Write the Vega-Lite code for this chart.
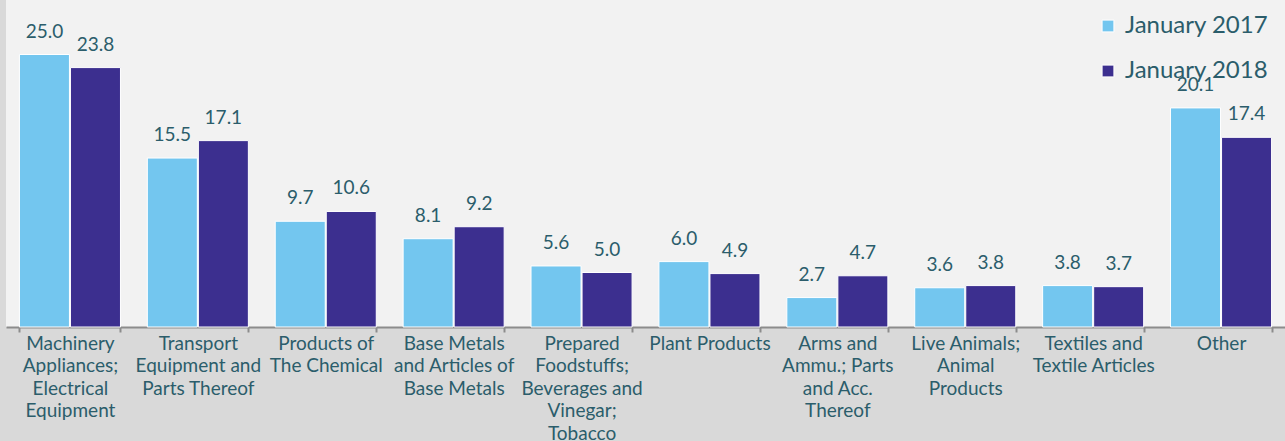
{
  "$schema": "https://vega.github.io/schema/vega-lite/v6.json",
  "width": 1279,
  "height": 327,
  "autosize": {"type": "none"},
  "padding": {"left": 6, "top": 0, "right": 0, "bottom": 114},
  "background": "#d9d9d9",
  "config": {
    "view": {"fill": "#f2f2f2", "stroke": null},
    "font": "Lato",
    "text": {"font": "Lato"}
  },
  "data": {
    "values": [
      {"cat": "Machinery|Appliances;|Electrical|Equipment", "year": "January 2017", "value": 25.0},
      {"cat": "Machinery|Appliances;|Electrical|Equipment", "year": "January 2018", "value": 23.8},
      {"cat": "Transport|Equipment and|Parts Thereof", "year": "January 2017", "value": 15.5},
      {"cat": "Transport|Equipment and|Parts Thereof", "year": "January 2018", "value": 17.1},
      {"cat": "Products of|The Chemical", "year": "January 2017", "value": 9.7},
      {"cat": "Products of|The Chemical", "year": "January 2018", "value": 10.6},
      {"cat": "Base Metals|and Articles of|Base Metals", "year": "January 2017", "value": 8.1},
      {"cat": "Base Metals|and Articles of|Base Metals", "year": "January 2018", "value": 9.2},
      {"cat": "Prepared|Foodstuffs;|Beverages and|Vinegar;|Tobacco", "year": "January 2017", "value": 5.6},
      {"cat": "Prepared|Foodstuffs;|Beverages and|Vinegar;|Tobacco", "year": "January 2018", "value": 5.0},
      {"cat": "Plant Products", "year": "January 2017", "value": 6.0},
      {"cat": "Plant Products", "year": "January 2018", "value": 4.9},
      {"cat": "Arms and|Ammu.; Parts|and Acc.|Thereof", "year": "January 2017", "value": 2.7},
      {"cat": "Arms and|Ammu.; Parts|and Acc.|Thereof", "year": "January 2018", "value": 4.7},
      {"cat": "Live Animals;|Animal|Products", "year": "January 2017", "value": 3.6},
      {"cat": "Live Animals;|Animal|Products", "year": "January 2018", "value": 3.8},
      {"cat": "Textiles and|Textile Articles", "year": "January 2017", "value": 3.8},
      {"cat": "Textiles and|Textile Articles", "year": "January 2018", "value": 3.7},
      {"cat": "Other", "year": "January 2017", "value": 20.1},
      {"cat": "Other", "year": "January 2018", "value": 17.4}
    ]
  },
  "encoding": {
    "x": {
      "field": "cat",
      "type": "nominal",
      "sort": null,
      "scale": {"paddingInner": 0.21, "paddingOuter": 0.105},
      "axis": {
        "title": null,
        "labelAngle": 0,
        "labelExpr": "split(datum.label, '|')",
        "labelFont": "Lato",
        "labelFontSize": 19,
        "labelLineHeight": 22.5,
        "labelColor": "#2b5d6b",
        "labelPadding": 2,
        "labelBaseline": "top",
        "labelLimit": 200,
        "tickBand": "extent",
        "tickColor": "#8c8c8c",
        "tickSize": 5,
        "tickWidth": 2,
        "domainColor": "#8c8c8c",
        "domainWidth": 2,
        "grid": false
      }
    },
    "xOffset": {
      "field": "year",
      "type": "nominal",
      "scale": {"paddingInner": 0.02}
    },
    "y": {
      "field": "value",
      "type": "quantitative",
      "scale": {"domain": [0, 30], "nice": false},
      "axis": null
    }
  },
  "layer": [
    {
      "mark": {"type": "bar", "stroke": "white", "strokeWidth": 1},
      "encoding": {
        "color": {
          "field": "year",
          "type": "nominal",
          "scale": {"domain": ["January 2017", "January 2018"], "range": ["#73c6ef", "#3c2f8f"]},
          "legend": {
            "title": null,
            "orient": "none",
            "legendX": 1090,
            "legendY": 14,
            "symbolType": "square",
            "symbolSize": 140,
            "symbolStrokeColor": "white",
            "symbolStrokeWidth": 1,
            "labelFont": "Lato",
            "labelFontSize": 24,
            "labelColor": "#2b5d6b",
            "labelOffset": 5,
            "rowPadding": 21,
            "labelLimit": 300
          }
        }
      }
    },
    {
      "mark": {"type": "text", "baseline": "alphabetic", "dy": -17, "fontSize": 19, "color": "#2b5d6b", "font": "Lato"},
      "encoding": {
        "text": {"field": "value", "type": "quantitative", "format": ".1f"}
      }
    }
  ]
}
